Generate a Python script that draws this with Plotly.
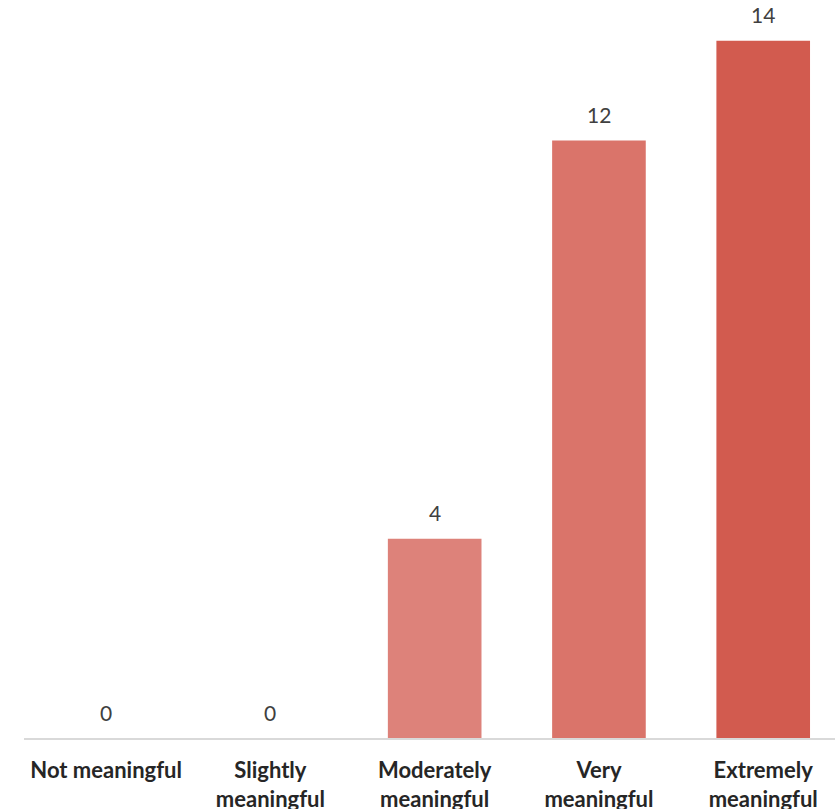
import plotly.graph_objects as go

# Survey responses: how meaningful the experience was
categories = ["Not meaningful", "Slightly<br>meaningful", "Moderately<br>meaningful",
              "Very<br>meaningful", "Extremely<br>meaningful"]
counts = [0, 0, 4, 12, 14]
bar_colors = ["#E49C95", "#E08F87", "#DD827A", "#DA746A", "#D25B4F"]

fig = go.Figure()
fig.add_trace(go.Bar(
    x=categories,
    y=counts,
    marker=dict(color=bar_colors, line=dict(width=0)),
    hoverinfo="x+y",
))

# Value labels above each bar
for cat, val in zip(categories, counts):
    fig.add_annotation(
        x=cat, y=val, text=str(val), showarrow=False,
        yanchor="middle", yshift=26,
        font=dict(family="Lato", size=21, color="#404040"),
    )

fig.update_layout(
    width=835, height=809,
    margin=dict(l=24, r=0, t=0, b=71),
    paper_bgcolor="white", plot_bgcolor="white",
    bargap=0.43,
    showlegend=False,
    font=dict(family="Lato"),
)
fig.update_xaxes(
    range=[-0.5, 4.437],
    automargin=False,
    showline=True, linecolor="#D9D9D9", linewidth=1.5,
    ticks="", showgrid=False,
    tickfont=dict(family="Lato", size=22, color="#262626", weight="bold"),
    ticklabelstandoff=12,
)
fig.update_yaxes(
    range=[0, 14.82],
    automargin=False,
    visible=False, showgrid=False, zeroline=False,
)

fig.write_html("out.html")
